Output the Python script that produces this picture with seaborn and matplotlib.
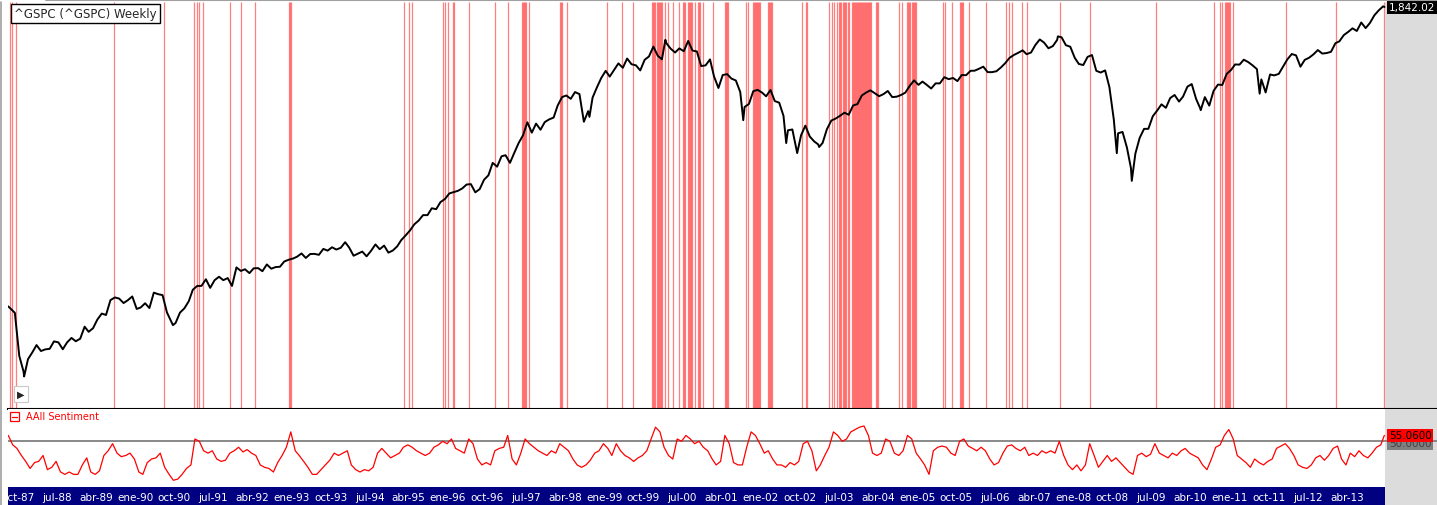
import pandas as pd
import matplotlib
matplotlib.use('Agg')
import matplotlib.pyplot as plt
import seaborn as sns
from matplotlib.patches import Rectangle
from matplotlib.lines import Line2D
from matplotlib.transforms import blended_transform_factory

# S&P 500 closes: week of 14-Aug-1987, then month ends, then week of 10-Jan-2014
sp500_close = [
    333.99, 329.80, 321.83, 251.79, 230.30, 247.08,  # 1987
    257.07, 267.82, 258.89, 261.33, 262.16, 273.50, 272.02, 261.52, 271.91, 278.97, 273.70, 277.72,  # 1988
    297.47, 288.86, 294.87, 309.64, 320.52, 317.98, 346.08, 351.45, 349.15, 340.36, 345.99, 353.40,  # 1989
    329.08, 331.89, 339.94, 330.80, 361.23, 358.02, 356.15, 322.56, 306.05, 304.00, 322.22, 330.22,  # 1990
    343.93, 367.07, 375.22, 375.35, 389.83, 371.16, 387.81, 395.43, 387.86, 392.46, 375.22, 417.09,  # 1991
    408.79, 412.70, 403.69, 414.95, 415.35, 408.14, 424.21, 414.03, 417.80, 418.68, 431.35, 435.71,  # 1992
    438.78, 443.38, 451.67, 440.19, 450.19, 450.53, 448.13, 463.56, 458.93, 467.83, 461.79, 466.45,  # 1993
    481.61, 467.14, 445.77, 450.91, 456.50, 444.27, 458.26, 475.49, 462.69, 472.35, 453.69, 459.27,  # 1994
    470.42, 487.39, 500.71, 514.71, 533.40, 544.75, 562.06, 561.88, 584.41, 581.50, 605.37, 615.93,  # 1995
    636.02, 640.43, 645.50, 654.17, 669.12, 670.63, 639.95, 651.99, 687.31, 705.27, 757.02, 740.74,  # 1996
    786.16, 790.82, 757.12, 801.34, 848.28, 885.14, 954.31, 899.47, 947.28, 914.62, 955.40, 970.43,  # 1997
    980.28, 1049.34, 1101.75, 1111.75, 1090.82, 1133.84, 1120.67, 957.28, 1017.01, 1098.67, 1163.63, 1229.23,  # 1998
    1279.64, 1238.33, 1286.37, 1335.18, 1301.84, 1372.71, 1328.72, 1320.41, 1282.71, 1362.93, 1388.91, 1469.25,  # 1999
    1394.46, 1366.42, 1498.58, 1452.43, 1420.60, 1454.60, 1430.83, 1517.68, 1436.51, 1429.40, 1314.95, 1320.28,  # 2000
    1366.01, 1239.94, 1160.33, 1249.46, 1255.82, 1224.42, 1211.23, 1133.58, 1040.94, 1059.78, 1139.45, 1148.08,  # 2001
    1130.20, 1106.73, 1147.39, 1076.92, 1067.14, 989.82, 911.62, 916.07, 815.28, 885.76, 936.31, 879.82,  # 2002
    855.70, 841.15, 848.18, 916.92, 963.59, 974.50, 990.31, 1008.01, 995.97, 1050.71, 1058.20, 1111.92,  # 2003
    1131.13, 1144.94, 1126.21, 1107.30, 1120.68, 1140.84, 1101.72, 1104.24, 1114.58, 1130.20, 1173.82, 1211.92,  # 2004
    1181.27, 1203.60, 1180.59, 1156.85, 1191.50, 1191.33, 1234.18, 1220.33, 1228.81, 1207.01, 1249.48, 1248.29,  # 2005
    1280.08, 1280.66, 1294.87, 1310.61, 1270.09, 1270.20, 1276.66, 1303.82, 1335.85, 1377.94, 1400.63, 1418.30,  # 2006
    1438.24, 1406.82, 1420.86, 1482.37, 1530.62, 1503.35, 1455.27, 1473.99, 1526.75, 1549.38, 1481.14, 1468.36,  # 2007
    1378.55, 1330.63, 1322.70, 1385.59, 1400.38, 1280.00, 1267.38, 1282.83, 1166.36, 968.75, 896.24, 903.25,  # 2008
    825.88, 735.09, 797.87, 872.81, 919.14, 919.32, 987.48, 1020.62, 1057.08, 1036.19, 1095.63, 1115.10,  # 2009
    1073.87, 1104.49, 1169.43, 1186.69, 1089.41, 1030.71, 1101.60, 1049.33, 1141.20, 1183.26, 1180.55, 1257.64,  # 2010
    1286.12, 1327.22, 1325.83, 1363.61, 1345.20, 1320.64, 1292.28, 1218.89, 1131.42, 1253.30, 1246.96, 1257.60,  # 2011
    1312.41, 1365.68, 1408.47, 1397.91, 1310.33, 1362.16, 1379.32, 1406.58, 1440.67, 1412.16, 1416.18, 1426.19,  # 2012
    1498.11, 1514.68, 1569.19, 1597.57, 1630.74, 1606.28, 1685.73, 1632.97, 1681.55, 1756.54, 1805.81, 1848.36,  # 2013
    1842.02,  # 2014
]

# weekly closes at the main swing highs / lows between month ends
swing_dates = ['1987-12-04', '1990-10-12', '1998-10-09', '2000-03-24', '2001-09-21',
               '2002-07-19', '2002-10-04', '2003-03-07', '2007-10-05', '2008-11-21',
               '2009-03-06', '2010-07-02', '2011-08-19']
swing_closes = [223.92, 300.03, 984.39, 1527.46, 965.80,
                847.75, 800.58, 828.89, 1557.59, 800.03,
                683.38, 1022.58, 1123.53]

# AAII bullish %, mid-month levels Aug-1987 .. Dec-2013, then week of 9-Jan-2014
aaii_bullish = [
    55, 47, 44, 38, 33,  # 1987
    27, 32, 33, 38, 26, 28, 33, 24, 22, 24, 22, 22,  # 1988
    30, 36, 24, 22, 25, 38, 42, 48, 40, 37, 38, 40,  # 1989
    35, 24, 22, 32, 35, 36, 40, 28, 22, 17, 18, 22,  # 1990
    27, 30, 52, 50, 42, 40, 42, 35, 33, 34, 40, 42,  # 1991
    45, 41, 43, 40, 38, 30, 28, 27, 24, 32, 38, 45,  # 1992
    58, 42, 38, 33, 28, 22, 22, 26, 30, 34, 40, 38,  # 1993
    40, 42, 30, 26, 24, 26, 25, 28, 40, 44, 40, 36,  # 1994
    38, 40, 45, 47, 45, 42, 40, 38, 40, 45, 47, 50,  # 1995
    48, 52, 44, 42, 40, 52, 48, 35, 30, 32, 30, 42,  # 1996
    44, 45, 55, 35, 30, 40, 52, 48, 45, 42, 40, 38,  # 1997
    42, 40, 48, 45, 42, 35, 30, 28, 30, 34, 40, 42,  # 1998
    48, 44, 38, 48, 42, 38, 36, 33, 36, 38, 42, 52,  # 1999
    62, 58, 45, 38, 35, 52, 50, 55, 52, 48, 50, 45,  # 2000
    42, 35, 30, 33, 55, 48, 32, 30, 30, 45, 58, 55,  # 2001
    48, 40, 42, 35, 30, 30, 28, 32, 30, 33, 48, 50,  # 2002
    42, 25, 30, 38, 45, 58, 55, 50, 52, 58, 60, 62,  # 2003
    63, 55, 40, 38, 40, 52, 50, 40, 38, 42, 55, 52,  # 2004
    40, 35, 30, 22, 42, 45, 46, 45, 40, 38, 50, 52,  # 2005
    46, 44, 42, 45, 42, 35, 30, 32, 40, 46, 47, 44,  # 2006
    42, 45, 38, 40, 38, 42, 40, 42, 40, 50, 38, 30,  # 2007
    26, 30, 25, 30, 48, 38, 28, 33, 38, 33, 36, 32,  # 2008
    28, 24, 22, 38, 40, 37, 39, 48, 40, 38, 36, 40,  # 2009
    38, 42, 44, 40, 38, 36, 30, 26, 35, 45, 47, 55,  # 2010
    60, 52, 38, 35, 32, 28, 35, 32, 30, 33, 35, 44,  # 2011
    46, 48, 44, 38, 30, 28, 27, 30, 36, 38, 34, 38,  # 2012
    44, 46, 35, 30, 40, 37, 42, 38, 36, 40, 45, 47,  # 2013
    55.06,  # 2014
]
bull_threshold = 50

# weeks flagged by the sentiment signal (decimal years)
signal_years = [
    1987.65, 1987.69, 1987.77, 1989.65, 1990.61, 1991.18, 1991.24, 1991.28, 1991.36,
    1991.88, 1992.09, 1992.35, 1993.01, 1993.03, 1993.05,
    1995.21, 1995.31, 1995.37, 1995.96, 1996.00, 1996.06, 1996.15, 1996.17, 1996.46,
    1996.96, 1997.21, 1997.48, 1997.50, 1997.52, 1997.54, 1997.56, 1997.61,
    1998.21, 1998.23, 1998.25, 1998.34, 1999.11, 1999.40, 1999.61,
    1999.97, 1999.99, 2000.01, 2000.03, 2000.07, 2000.09, 2000.11, 2000.13, 2000.14, 2000.16,
    2000.22, 2000.28, 2000.37, 2000.49, 2000.57, 2000.59, 2000.61, 2000.66, 2000.68, 2000.70,
    2000.72, 2000.74, 2000.80, 2000.86, 2000.87, 2000.89, 2000.95, 2001.14,
    2001.37, 2001.39, 2001.41, 2001.43, 2001.78, 2001.81,
    2001.91, 2001.93, 2001.95, 2001.97, 2001.99, 2002.01, 2002.03, 2002.04,
    2002.20, 2002.22, 2002.24, 2002.26, 2002.28, 2002.85, 2002.93, 2002.95,
    2003.37, 2003.42, 2003.46, 2003.52, 2003.56, 2003.58, 2003.60, 2003.64, 2003.66,
    2003.68, 2003.69, 2003.73, 2003.75,
    2003.81, 2003.83, 2003.85, 2003.87, 2003.89, 2003.90, 2003.92, 2003.94, 2003.96, 2003.98,
    2004.00, 2004.02, 2004.04, 2004.06, 2004.08, 2004.10, 2004.12, 2004.13, 2004.15, 2004.17,
    2004.27, 2004.29, 2004.31, 2004.71, 2004.77, 2004.86, 2004.88, 2004.90, 2004.92,
    2004.96, 2004.98, 2005.00, 2005.02, 2005.04, 2005.56, 2005.59, 2005.73,
    2005.88, 2005.90, 2005.92, 2005.94, 2006.05, 2006.38, 2006.76, 2006.82, 2006.88,
    2007.07, 2007.17, 2007.80, 2008.38, 2009.64,
    2010.75, 2010.87, 2010.91, 2010.97, 2010.99, 2011.00, 2011.02, 2011.04, 2011.06, 2011.12,
    2012.14, 2013.10, 2014.02,
]

tick_labels = [
    'oct-87', 'jul-88', 'abr-89', 'ene-90', 'oct-90', 'jul-91', 'abr-92', 'ene-93', 'oct-93',
    'jul-94', 'abr-95', 'ene-96', 'oct-96', 'jul-97', 'abr-98', 'ene-99', 'oct-99', 'jul-00',
    'abr-01', 'ene-02', 'oct-02', 'jul-03', 'abr-04', 'ene-05', 'oct-05', 'jul-06', 'abr-07',
    'ene-08', 'oct-08', 'jul-09', 'abr-10', 'ene-11', 'oct-11', 'jul-12', 'abr-13',
]

price_dates = (pd.DatetimeIndex(['1987-08-14'])
               .append(pd.date_range('1987-08-31', '2013-12-31', freq='ME'))
               .append(pd.DatetimeIndex(['2014-01-10'])))
sent_dates = ((pd.date_range('1987-08-01', '2013-12-01', freq='MS') + pd.Timedelta(days=14))
              .append(pd.DatetimeIndex(['2014-01-09'])))
assert len(price_dates) == len(sp500_close)
assert len(sent_dates) == len(aaii_bullish)

price = pd.concat([
    pd.DataFrame({'date': price_dates, 'close': sp500_close}),
    pd.DataFrame({'date': pd.to_datetime(swing_dates), 'close': swing_closes}),
]).sort_values('date').reset_index(drop=True)
sentiment = pd.DataFrame({'date': sent_dates, 'bullish': aaii_bullish})


def year_to_date(y):
    base = pd.Timestamp(year=int(y), month=1, day=1)
    return base + pd.Timedelta(days=(y - int(y)) * 365.25)


signal_dates = [year_to_date(y) for y in signal_years]
tick_dates = pd.date_range('1987-10-01', periods=len(tick_labels), freq='9MS') + pd.Timedelta(days=20)

x_start = pd.Timestamp('1987-08-13')
x_end = pd.Timestamp('2015-01-13')
future_start = pd.Timestamp('2014-01-14')

sns.set_style('white')
plt.rcParams['font.family'] = ['DejaVu Sans']

W, H = 1437, 506
fig = plt.figure(figsize=(W / 100, H / 100), dpi=100)
fig.patch.set_facecolor('white')

ax1 = fig.add_axes([8 / W, 1 - 410 / H, (W - 8) / W, 407 / H])
ax2 = fig.add_axes([8 / W, 1 - 488 / H, (W - 8) / W, 78 / H])
ax3 = fig.add_axes([8 / W, 0, (W - 8) / W, 18 / H])
grey = '#dcdcdc'

# price panel
ax1.vlines(signal_dates, 0, 1, transform=ax1.get_xaxis_transform(),
           colors='red', alpha=0.5, linewidth=0.9, zorder=1)
sns.lineplot(data=price, x='date', y='close', ax=ax1, color='black', linewidth=1.4, zorder=3)
ax1.set_yscale('log')
ax1.set_ylim(186, 1895)
ax1.axvspan(future_start, x_end, color=grey, lw=0, zorder=2)

# sentiment panel
sns.lineplot(data=sentiment, x='date', y='bullish', ax=ax2, color='red', linewidth=0.9, zorder=3)
ax2.axhline(bull_threshold, color='#808080', lw=1.3, zorder=2)
ax2.set_ylim(11.3, 77.4)
ax2.axvspan(future_start, x_end, color=grey, lw=0, zorder=1)

# date bar
ax3.set_facecolor(grey)
ax3.axvspan(x_start, future_start, color='#000080', lw=0, zorder=1)
ax3.set_ylim(0, 1)
for d, lab in zip(tick_dates, tick_labels):
    ax3.text(d, 0.45, lab, transform=ax3.get_xaxis_transform(), color='white',
             fontsize=7.5, ha='center', va='center', zorder=3)

for ax in (ax1, ax2, ax3):
    ax.set_xlim(x_start, x_end)
    ax.set_xlabel('')
    ax.set_ylabel('')
    ax.tick_params(which='both', left=False, labelleft=False, bottom=False, labelbottom=False)
    for s in ax.spines.values():
        s.set_visible(False)
ax1.spines['bottom'].set_visible(True)
ax1.spines['bottom'].set_color('black')
ax1.spines['bottom'].set_linewidth(1.5)

# frame bits
fig.add_artist(Line2D([46 / W, 1], [1 - 1 / H, 1 - 1 / H], color='#a0a0a0', lw=1.5))
fig.add_artist(Line2D([1 / W, 1 / W], [0, 1 - 3 / H], color='#a0a0a0', lw=1.2))

fig.text(14 / W, 1 - 14.5 / H, '^GSPC (^GSPC) Weekly', fontsize=8.5, ha='left', va='center',
         bbox=dict(boxstyle='square,pad=0.28', fc='white', ec='black', lw=1))
fig.text(21 / W, 1 - 395 / H, '\u25b6', fontsize=7, ha='center', va='center',
         bbox=dict(boxstyle='square,pad=0.3', fc='white', ec='#c8c8c8', lw=0.8))

fig.add_artist(Rectangle((10 / W, 1 - 422 / H), 9 / W, 9 / H, fill=False, ec='red', lw=0.9))
fig.add_artist(Line2D([12 / W, 17 / W], [1 - 417.5 / H, 1 - 417.5 / H], color='red', lw=0.9))
fig.text(26 / W, 1 - 417.5 / H, 'AAII Sentiment', fontsize=7, color='red', ha='left', va='center')

# last-value labels at the right edge
lx = (1389 - 8) / (W - 8)
t1 = blended_transform_factory(ax1.transAxes, ax1.transData)
ax1.text(lx, sp500_close[-1], f'{sp500_close[-1]:,.2f}', transform=t1, fontsize=7.5,
         color='white', ha='left', va='center', clip_on=False, zorder=5,
         bbox=dict(boxstyle='square,pad=0.15', fc='black', ec='none'))
t2 = blended_transform_factory(ax2.transAxes, ax2.transData)
ax2.text(lx, bull_threshold - 1.5, f'{bull_threshold:.4f}', transform=t2, fontsize=7.5,
         color='#404040', ha='left', va='center', clip_on=False, zorder=5,
         bbox=dict(boxstyle='square,pad=0.15', fc='#808080', ec='none'))
ax2.text(lx, aaii_bullish[-1], f'{aaii_bullish[-1]:.4f}', transform=t2, fontsize=7.5,
         color='black', ha='left', va='center', clip_on=False, zorder=6,
         bbox=dict(boxstyle='square,pad=0.15', fc='red', ec='none'))

fig.savefig('out.png', dpi=100, facecolor=fig.get_facecolor())
